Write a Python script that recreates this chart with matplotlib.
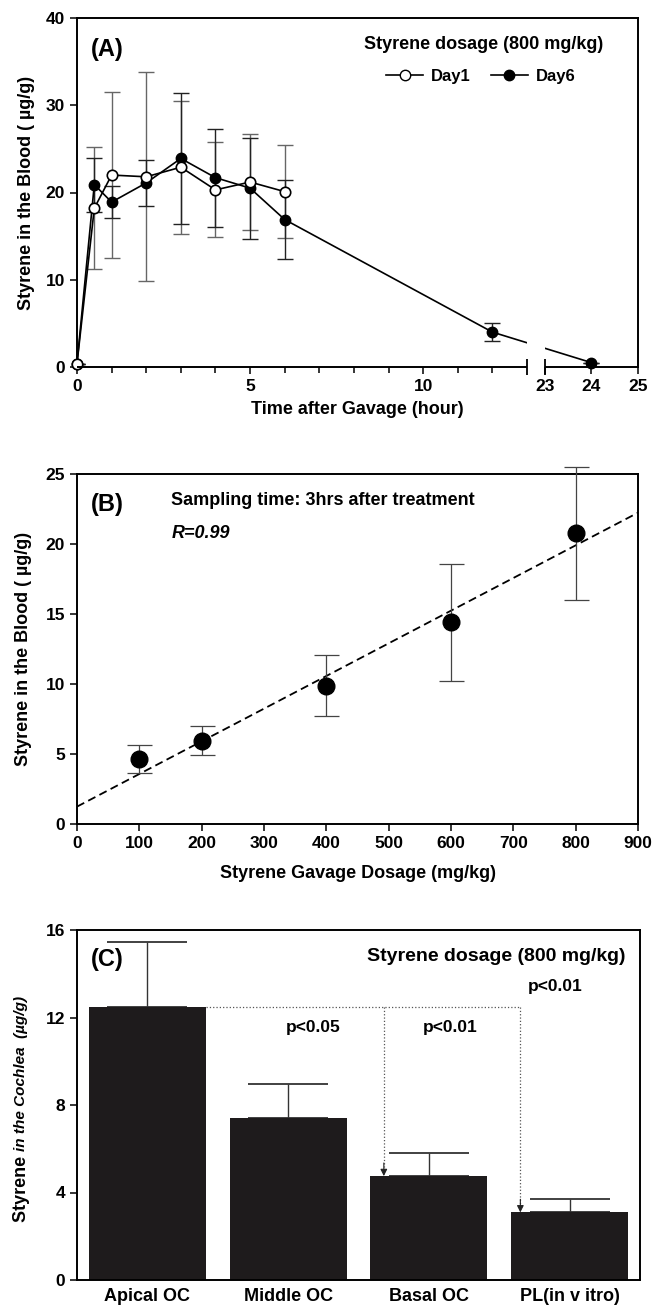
import numpy as np
import matplotlib
matplotlib.use("Agg")
import matplotlib.pyplot as plt
from matplotlib.lines import Line2D

plt.rcParams['font.family'] = ['Liberation Sans', 'DejaVu Sans']
plt.rcParams['font.weight'] = 'bold'

# ---------------- data ----------------
# Panel A
day1_t = [0, 0.5, 1, 2, 3, 4, 5, 6]
day1_v = [0.4, 18.2, 22.0, 21.8, 22.9, 20.3, 21.2, 20.1]
day1_e = [0.0, 7.0, 9.5, 12.0, 7.6, 5.45, 5.55, 5.3]
day6_t = [0, 0.5, 1, 2, 3, 4, 5, 6, 12, 24]
day6_v = [0.4, 20.9, 18.9, 21.1, 23.9, 21.7, 20.5, 16.9, 4.0, 0.5]
day6_e = [0.0, 3.1, 1.8, 2.65, 7.5, 5.6, 5.8, 4.55, 1.05, 0.0]

# Panel B
dose = [100, 200, 400, 600, 800]
blood = [4.64, 5.95, 9.88, 14.4, 20.76]
blood_e = [1.0, 1.05, 2.2, 4.2, 4.75]
fit_intercept = 1.24
fit_slope = 0.02333

# Panel C
regions = ['Apical OC', 'Middle OC', 'Basal OC', 'PL(in v itro)']
cochlea = [12.48, 7.41, 4.75, 3.09]
cochlea_e = [2.97, 1.54, 1.04, 0.62]

W, H = 656, 1305
fig = plt.figure(figsize=(W / 100, H / 100), dpi=100)


def rect(l, t, r, b):
    return [l / W, 1 - b / H, (r - l) / W, (b - t) / H]


SPW = 1.4
TICKFS = 12.5
LABFS = 13

# ---------------- Panel A ----------------
axA = fig.add_axes(rect(77, 18, 638, 367))
xp = [0, 13, 23, 25]
yp = [0, 450, 468, 561]


def fwd(x):
    return np.interp(x, xp, yp, left=None, right=None)


def inv(y):
    return np.interp(y, yp, xp)


axA.set_xscale('function', functions=(fwd, inv))
axA.set_xlim(0, 25)
axA.set_ylim(0, 40)

axA.errorbar(day1_t, day1_v, yerr=day1_e, fmt='none', ecolor='#666666',
             elinewidth=1.0, capsize=6, capthick=1.0, zorder=1.5)
axA.errorbar(day6_t, day6_v, yerr=day6_e, fmt='none', ecolor='#222222',
             elinewidth=1.0, capsize=6, capthick=1.0, zorder=1.5)
axA.plot(day6_t, day6_v, '-o', color='black', mfc='black', mec='black',
         ms=7.5, lw=1.2, label='Day6', zorder=3, clip_on=False)
axA.plot(day1_t, day1_v, '-o', color='black', mfc='white', mec='black',
         ms=7.5, mew=1.2, lw=1.2, label='Day1', zorder=3.2, clip_on=False)
# axis break gap
axA.axvspan(13, 23, ymin=0.004, ymax=0.8, color='white', zorder=3.5, lw=0)
axA.spines['bottom'].set_visible(False)
xt = axA.get_xaxis_transform()
axA.plot([0, 13], [0, 0], color='black', lw=SPW, transform=xt, clip_on=False, zorder=4,
         solid_capstyle='butt')
axA.plot([23, 25], [0, 0], color='black', lw=SPW, transform=xt, clip_on=False, zorder=4,
         solid_capstyle='butt')
axA.plot([13, 23], [0, 0], ls='none', marker='|', ms=11, mew=1.3, color='black',
         transform=xt, clip_on=False, zorder=4)

axA.set_xticks([0, 5, 10, 23, 24, 25])
axA.set_xticks([1, 2, 3, 4, 6, 7, 8, 9, 11, 12], minor=True)
axA.set_yticks([0, 10, 20, 30, 40])
axA.set_xlabel('Time after Gavage (hour)', fontsize=LABFS, fontweight='bold', labelpad=5)
axA.set_ylabel('Styrene in the Blood ( µg/g)', fontsize=LABFS, fontweight='bold', labelpad=8)
axA.text(0.024, 0.91, '(A)', transform=axA.transAxes, fontsize=17, fontweight='bold',
         va='center', ha='left', zorder=6)
axA.text(0.724, 0.923, 'Styrene dosage (800 mg/kg)', transform=axA.transAxes,
         fontsize=13, fontweight='bold', ha='center', va='center', zorder=6)
h1 = Line2D([], [], color='black', marker='o', mfc='white', mec='black', ms=7.5, lw=1.2)
h6 = Line2D([], [], color='black', marker='o', mfc='black', mec='black', ms=7.5, lw=1.2)
leg = axA.legend([h1, h6], ['Day1', 'Day6'], ncol=2, frameon=False,
                 loc='center', bbox_to_anchor=(0.72, 0.833),
                 prop={'weight': 'bold', 'size': 12}, handlelength=2.2,
                 handletextpad=0.5, columnspacing=1.2, borderpad=0)
leg.set_zorder(6)

# ---------------- Panel B ----------------
axB = fig.add_axes(rect(77, 474, 638, 824))
axB.set_xlim(0, 900)
axB.set_ylim(0, 25)
xs = np.array([0, 900])
axB.plot(xs, fit_intercept + fit_slope * xs, color='black', lw=1.3,
         ls=(0, (4.5, 2.5)), zorder=2)
axB.errorbar(dose, blood, yerr=blood_e, fmt='o', color='black', ms=12,
             ecolor='#444444', elinewidth=0.9, capsize=9, capthick=0.9,
             zorder=3, clip_on=False)
axB.set_xticks(range(0, 901, 100))
axB.set_yticks(range(0, 26, 5))
axB.set_xlabel('Styrene Gavage Dosage (mg/kg)', fontsize=LABFS, fontweight='bold', labelpad=10)
axB.set_ylabel('Styrene in the Blood ( µg/g)', fontsize=LABFS, fontweight='bold', labelpad=10)
axB.text(0.024, 0.914, '(B)', transform=axB.transAxes, fontsize=17, fontweight='bold',
         va='center', ha='left')
axB.text(0.168, 0.925, 'Sampling time: 3hrs after treatment', transform=axB.transAxes,
         fontsize=13, fontweight='bold', va='center', ha='left')
axB.text(0.168, 0.83, 'R=0.99', transform=axB.transAxes, fontsize=13,
         fontweight='bold', style='italic', va='center', ha='left')

# ---------------- Panel C ----------------
axC = fig.add_axes(rect(77, 930, 640, 1280))
xc = np.arange(len(regions))
axC.bar(xc, cochlea, width=0.83, color='#1e1b1c', zorder=2)
axC.errorbar(xc, cochlea, yerr=[np.zeros(len(cochlea)), cochlea_e], fmt='none',
             ecolor='#333333', elinewidth=1.0, capsize=29, capthick=1.3, zorder=1.5)
axC.set_xlim(-0.5, 3.5)
axC.set_ylim(0, 16)
axC.set_yticks([0, 4, 8, 12, 16])
axC.set_xticks(xc)
axC.set_xticklabels(regions, fontsize=13, fontweight='bold')
# significance markers
dcol = '#555555'
xa, xb = 1.68, 2.65
axC.plot([0.415, xb], [cochlea[0], cochlea[0]], ls=':', color=dcol, lw=0.9, zorder=1)
for xv, yt in [(xa, cochlea[2]), (xb, cochlea[3])]:
    axC.plot([xv, xv], [cochlea[0], yt + 0.4], ls=':', color=dcol, lw=0.9, zorder=1)
    axC.annotate('', xy=(xv, yt), xytext=(xv, yt + 0.6),
                 arrowprops=dict(arrowstyle='-|>', color='#222222', lw=0.8,
                                 mutation_scale=10, shrinkA=0, shrinkB=0))
axC.text(1.18, 11.55, 'p<0.05', fontsize=12.5, fontweight='bold', ha='center', va='center')
axC.text(2.15, 11.55, 'p<0.01', fontsize=12.5, fontweight='bold', ha='center', va='center')
axC.text(2.9, 13.4, 'p<0.01', fontsize=12.5, fontweight='bold', ha='center', va='center')
axC.text(0.975, 0.923, 'Styrene dosage (800 mg/kg)', transform=axC.transAxes,
         fontsize=14, fontweight='bold', ha='right', va='center')
axC.text(0.024, 0.917, '(C)', transform=axC.transAxes, fontsize=17, fontweight='bold',
         va='center', ha='left')

# y label for C composed of two styles
renderer = fig.canvas.get_renderer()
t1 = fig.text(21 / W, 1 - 1222 / H, 'Styrene ', rotation=90, fontsize=13,
              fontweight='bold', ha='center', va='bottom')
bb = t1.get_window_extent(renderer)
fig.text(21 / W, bb.y1 / H, 'in the Cochlea  (µg/g)', rotation=90, fontsize=11,
         fontweight='bold', style='italic', ha='center', va='bottom')

for ax in (axA, axB, axC):
    for s in ax.spines.values():
        s.set_linewidth(SPW)
    ax.tick_params(which='both', direction='out', width=1.1, labelsize=TICKFS,
                   top=False, right=False)
    ax.tick_params(which='major', length=5)
    ax.tick_params(which='minor', length=4)
    for lab in ax.get_xticklabels() + ax.get_yticklabels():
        lab.set_fontweight('bold')
axC.tick_params(axis='x', length=0, pad=6, labelsize=13)

fig.savefig('out.png', dpi=100)
